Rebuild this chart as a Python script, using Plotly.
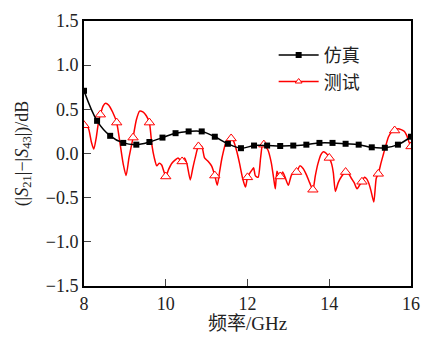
import plotly.graph_objects as go

# Simulation (仿真)
sim_freq = [8.00, 8.32, 8.64, 8.96, 9.28, 9.60, 9.92, 10.24, 10.56, 10.88, 11.20, 11.52, 11.84,
            12.16, 12.48, 12.80, 13.12, 13.44, 13.76, 14.08, 14.40, 14.72, 15.04, 15.36, 15.68, 16.00]
sim_val = [0.71, 0.37, 0.20, 0.12, 0.10, 0.13, 0.18, 0.23, 0.25, 0.25, 0.19, 0.11, 0.06,
           0.09, 0.09, 0.085, 0.09, 0.10, 0.12, 0.12, 0.11, 0.10, 0.07, 0.065, 0.10, 0.19]

# Measurement (测试)
meas_freq = [8.00, 8.05, 8.12, 8.18, 8.24, 8.30, 8.35, 8.40, 8.47, 8.53, 8.60, 8.70, 8.80, 8.88,
             8.96, 9.03, 9.10, 9.20, 9.28, 9.36, 9.44, 9.52, 9.60, 9.66, 9.72, 9.78, 9.84, 9.90,
             10.00, 10.07, 10.15, 10.24, 10.30, 10.40, 10.46, 10.52, 10.60, 10.66, 10.72, 10.80,
             10.88, 10.95, 11.04, 11.12, 11.20, 11.26, 11.32, 11.38, 11.48, 11.60, 11.66, 11.74,
             11.80, 11.88, 11.95, 12.00, 12.06, 12.12, 12.15, 12.19, 12.26, 12.32, 12.37, 12.40,
             12.50, 12.58, 12.64, 12.68, 12.72, 12.76, 12.80, 12.86, 12.92, 13.00, 13.08, 13.20,
             13.28, 13.36, 13.45, 13.52, 13.60, 13.66, 13.72, 13.80, 13.86, 13.93, 14.00, 14.06,
             14.10, 14.15, 14.22, 14.30, 14.40, 14.46, 14.54, 14.61, 14.68, 14.74, 14.80, 14.86,
             14.92, 14.97, 15.02, 15.09, 15.15, 15.20, 15.27, 15.33, 15.45, 15.52, 15.60, 15.68,
             15.76, 15.84, 15.90, 15.95, 16.00]
meas_val = [0.32, 0.33, 0.27, 0.13, 0.05, 0.18, 0.34, 0.44, 0.54, 0.57, 0.55, 0.47, 0.35, 0.12,
            -0.12, -0.25, -0.05, 0.18, 0.38, 0.48, 0.47, 0.43, 0.35, 0.10, -0.05, -0.14, -0.11, -0.13,
            -0.26, -0.18, -0.11, -0.07, -0.05, -0.09, -0.05, -0.12, -0.30, -0.17, -0.05, 0.08,
            0.08, -0.05, -0.09, -0.14, -0.25, -0.36, -0.20, -0.04, 0.13, 0.17, 0.14, 0.02,
            -0.10, -0.28, -0.38, -0.27, -0.22, -0.18, -0.16, -0.25, -0.27, -0.05, 0.11, 0.10,
            0.04, -0.10, -0.28, -0.40, -0.20, -0.24, -0.26, -0.21, -0.27, -0.36, -0.24, -0.21,
            -0.14, -0.17, -0.25, -0.33, -0.41, -0.25, -0.12, -0.01, 0.02, 0.00, -0.05, -0.12,
            -0.22, -0.43, -0.33, -0.26, -0.21, -0.22, -0.28, -0.33, -0.40, -0.36, -0.32, -0.27,
            -0.29, -0.34, -0.42, -0.55, -0.28, -0.23, -0.10, 0.00, 0.19, 0.24, 0.26, 0.28,
            0.27, 0.25, 0.20, 0.13, 0.08]

# triangle markers drawn every 0.4 GHz
marker_step = 0.4
mk = [i for i, f in enumerate(meas_freq) if abs((f - 8) / marker_step - round((f - 8) / marker_step)) < 1e-6]
mk_freq = [meas_freq[i] for i in mk]
mk_val = [meas_val[i] for i in mk]

y_ticks = [-1.5, -1.0, -0.5, 0.0, 0.5, 1.0, 1.5]
x_ticks = [8, 10, 12, 14, 16]

RED = "#ff0000"
FONT = "Liberation Serif, Times New Roman, Noto Sans CJK SC, serif"

fig = go.Figure()
fig.add_trace(go.Scatter(x=meas_freq, y=meas_val, mode="lines",
                         line=dict(color=RED, width=1.5, shape="spline", smoothing=0.6),
                         showlegend=False, hoverinfo="skip"))
fig.add_trace(go.Scatter(x=mk_freq, y=mk_val, mode="markers",
                         marker=dict(symbol="triangle-up", size=9, color="white",
                                     line=dict(color=RED, width=1)),
                         showlegend=False))
fig.add_trace(go.Scatter(x=sim_freq, y=sim_val, mode="lines+markers", name="仿真",
                         line=dict(color="black", width=1.5, shape="spline"),
                         marker=dict(symbol="square", size=6, color="black")))
fig.add_trace(go.Scatter(x=[None], y=[None], mode="lines+markers", name="测试",
                         line=dict(color=RED, width=1.5),
                         marker=dict(symbol="triangle-up", size=6, color="white",
                                     line=dict(color=RED, width=1))))

fig.update_layout(
    width=431, height=342,
    margin=dict(l=84, r=11, t=16, b=54),
    paper_bgcolor="white", plot_bgcolor="white",
    font=dict(family=FONT, size=18, color="#222222"),
    legend=dict(x=0.58, y=0.94, xanchor="left", yanchor="top",
                bgcolor="rgba(0,0,0,0)", font=dict(size=18, family=FONT),
                tracegroupgap=0, itemwidth=40),
    xaxis=dict(range=[8, 16], tickvals=x_ticks, ticks="inside", ticklen=7,
               showline=True, linecolor="black", linewidth=1.8, mirror=True,
               showgrid=False, zeroline=False,
               title=dict(text="频率/GHz", standoff=4, font=dict(size=19))),
    yaxis=dict(range=[-1.5, 1.5], tickvals=y_ticks, tickformat=".1f", ticks="inside", ticklen=7,
               showline=True, linecolor="black", linewidth=1.8, mirror=True,
               showgrid=False, zeroline=False,
               title=dict(text="(|<i>S</i><sub>21</sub>|−|<i>S</i><sub>43</sub>|)/dB",
                          standoff=13, font=dict(size=18))),
)

fig.write_html("out.html")
